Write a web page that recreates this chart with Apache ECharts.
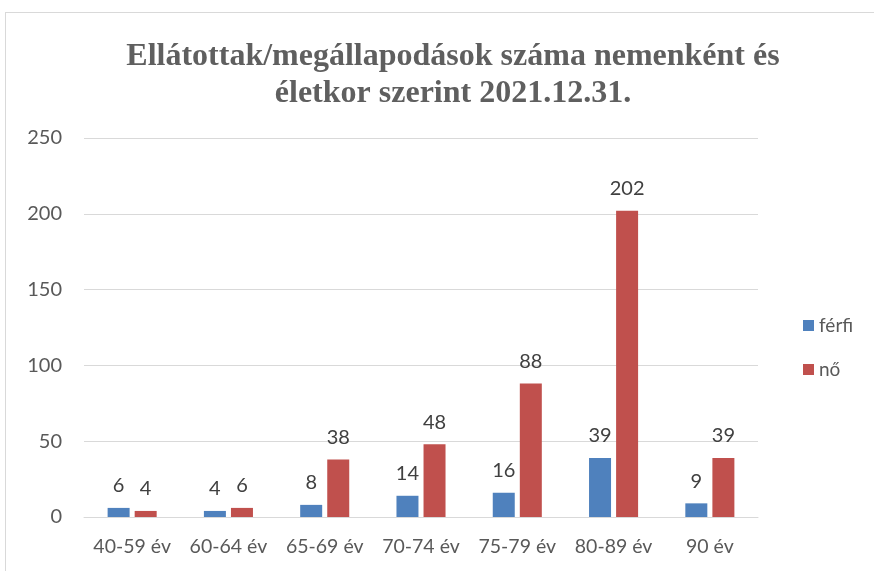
<!DOCTYPE html>
<html><head><meta charset="utf-8">
<script src="https://cdn.jsdelivr.net/npm/echarts@6/dist/echarts.min.js"></script>
<style>html,body{margin:0;padding:0;background:#fff}#c{width:874px;height:571px}
#frame{position:absolute;left:5px;top:12px;width:900px;height:600px;border:1px solid #d9d9d9;pointer-events:none}</style>
</head><body><div id="c"></div><div id="frame"></div>
<script>
var categories = ['40-59 év','60-64 év','65-69 év','70-74 év','75-79 év','80-89 év','90 év'];
var ferfi = [6,4,8,14,16,39,9];
var no = [4,6,38,48,88,202,39];
var yTicks = [0,50,100,150,200,250];
var chart = echarts.init(document.getElementById('c'));
var FF = 'Lato, "Open Sans", sans-serif';
var lbl = {show:true,position:'top',distance:12,color:'#404040',fontSize:20,fontFamily:FF};
chart.setOption({
  animation:false,
  title:{text:'Ellátottak/megállapodások száma nemenként és\nületkor szerint 2021.12.31.'.replace('ületkor','életkor'),left:448,textAlign:'center',top:33,
    textStyle:{fontFamily:'"Liberation Serif", serif',fontWeight:'bold',fontSize:32,color:'#5f5f5f',lineHeight:37}},
  legend:{orient:'vertical',left:798,top:311,itemWidth:11,itemHeight:11,itemGap:25,icon:'rect',
    textStyle:{fontSize:19,color:'#595959',fontFamily:FF},data:['férfi','nő']},
  grid:{left:84,right:116,top:138,bottom:54,containLabel:false},
  xAxis:{type:'category',data:categories,axisTick:{show:false},axisLine:{lineStyle:{color:'#d9d9d9'}},
    axisLabel:{color:'#595959',fontSize:19.5,margin:20,interval:0,hideOverlap:false,fontFamily:FF}},
  yAxis:{type:'value',min:0,max:250,interval:50,axisLine:{show:false},axisTick:{show:false},
    splitLine:{lineStyle:{color:'#d9d9d9'}},
    axisLabel:{color:'#595959',fontSize:20,margin:22,fontFamily:FF,
      formatter:function(v){return yTicks.indexOf(v)>=0?String(v):'';}}},
  series:[
    {name:'férfi',type:'bar',data:ferfi,barWidth:22,barGap:'23%',itemStyle:{color:'#4F81BD'},label:lbl},
    {name:'nő',type:'bar',data:no,barWidth:22,itemStyle:{color:'#C0504D'},label:lbl}
  ]
});
</script></body></html>
